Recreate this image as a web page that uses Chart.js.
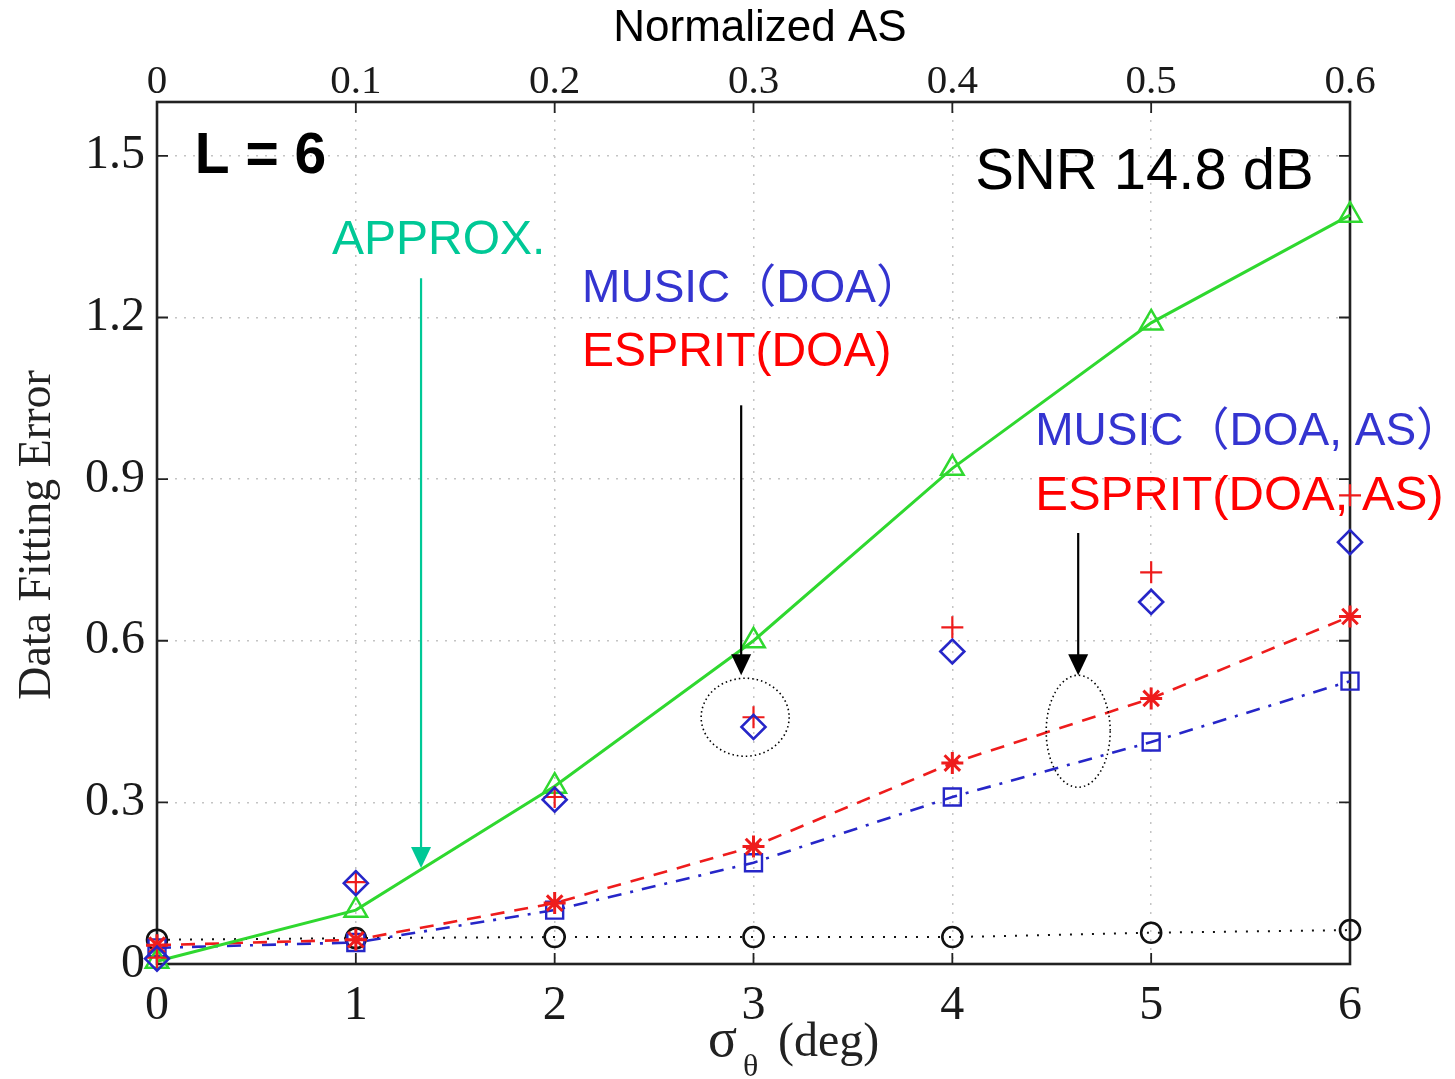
<!DOCTYPE html>
<html>
<head>
<meta charset="utf-8">
<script src="https://cdn.jsdelivr.net/npm/chart.js@4.4.0/dist/chart.umd.min.js"></script>
<style>
html, body { margin: 0; padding: 0; background: #fff; }
#wrap { width: 1455px; height: 1079px; position: relative; }
</style>
</head>
<body>
<div id="wrap"><canvas id="chart"></canvas></div>
<script>
// x values (sigma_theta, deg) and tick labels
const sigma = [0, 1, 2, 3, 4, 5, 6];
const yTicks = [0, 0.3, 0.6, 0.9, 1.2, 1.5];
const yTickLabels = ['0', '0.3', '0.6', '0.9', '1.2', '1.5'];
const asTicks = [0, 0.1, 0.2, 0.3, 0.4, 0.5, 0.6];
const asTickLabels = ['0', '0.1', '0.2', '0.3', '0.4', '0.5', '0.6'];

// series
const approx      = [0.005, 0.10, 0.33, 0.60, 0.92, 1.19, 1.39];   // green triangles
const bound       = [0.045, 0.048, 0.05, 0.05, 0.05, 0.058, 0.063]; // black circles
const espritDoaAs = [0.035, 0.045, 0.113, 0.218, 0.373, 0.493, 0.645]; // red stars
const musicDoaAs  = [0.03, 0.04, 0.10, 0.188, 0.31, 0.412, 0.525];    // blue squares
const musicDoa    = [0.01, 0.15, 0.305, 0.44, 0.58, 0.672, 0.783];    // blue diamonds
const espritDoa   = [0.012, 0.152, 0.31, 0.458, 0.625, 0.727, 0.87];  // red plus

const GREEN = '#2fd82f';
const RED = '#ee1c1c';
const BLUE = '#2626c8';
const TEAL = '#00c896';

const pts = arr => sigma.map((x, i) => ({ x: x, y: arr[i] }));

/* --- extra drawing: frame, inward ticks, axis titles, notes --- */
const decorPlugin = {
    id: 'decor',
    beforeDatasetsDraw(chart) {
        const { ctx, chartArea: a, scales } = chart;
        ctx.save();
        ctx.strokeStyle = '#222';
        ctx.lineWidth = 1.8;
        // inward ticks
        scales.x.ticks.forEach(t => {
            const px = scales.x.getPixelForValue(t.value);
            ctx.beginPath();
            ctx.moveTo(px, a.bottom); ctx.lineTo(px, a.bottom - 11);
            ctx.moveTo(px, a.top); ctx.lineTo(px, a.top + 11);
            ctx.stroke();
        });
        scales.y.ticks.forEach(t => {
            const py = scales.y.getPixelForValue(t.value);
            ctx.beginPath();
            ctx.moveTo(a.left, py); ctx.lineTo(a.left + 11, py);
            ctx.moveTo(a.right, py); ctx.lineTo(a.right - 11, py);
            ctx.stroke();
        });
        ctx.lineWidth = 2.6;
        ctx.strokeRect(a.left, a.top, a.right - a.left, a.bottom - a.top);
        ctx.restore();
    },
    afterDraw(chart) {
        const { ctx, scales } = chart;
        const X = v => scales.x.getPixelForValue(v);
        const Y = v => scales.y.getPixelForValue(v);
        ctx.save();

        // axis titles
        ctx.fillStyle = '#000';
        ctx.font = '44px "Liberation Sans", Arial, sans-serif';
        ctx.textAlign = 'center';
        ctx.textBaseline = 'middle';
        ctx.fillText('Normalized AS', 760, 29);

        ctx.save();
        ctx.translate(38, 535);
        ctx.rotate(-Math.PI / 2);
        ctx.fillStyle = '#222';
        ctx.font = '46px "Liberation Serif", "Times New Roman", serif';
        ctx.fillText('Data Fitting Error', 0, 0);
        ctx.restore();

        ctx.fillStyle = '#222';
        ctx.textAlign = 'left';
        ctx.textBaseline = 'alphabetic';
        ctx.font = '54px "Liberation Serif", serif';
        ctx.fillText('σ', 708, 1056);
        ctx.font = '32px "Liberation Serif", serif';
        ctx.fillText('θ', 743, 1076);
        ctx.font = '48px "Liberation Serif", serif';
        ctx.fillText('(deg)', 778, 1056);

        // notes
        const note = (txt, x, y, color, font) => {
            ctx.fillStyle = color;
            ctx.font = font;
            ctx.textAlign = 'left';
            ctx.textBaseline = 'middle';
            ctx.fillText(txt, X(x), Y(y));
        };
        const sans = '"Liberation Sans", "Noto Sans CJK JP", sans-serif';
        note('L = 6', 0.19, 1.497, '#000', 'bold 57px ' + sans);
        note('SNR 14.8 dB', 4.115, 1.469, '#000', '58px ' + sans);
        note('APPROX.', 0.88, 1.343, TEAL, '48px ' + sans);
        note('MUSIC（DOA）', 2.138, 1.252, '#3434d0', '46px ' + sans);
        note('ESPRIT(DOA)', 2.138, 1.135, '#ff0000', '48px ' + sans);
        note('MUSIC（DOA, AS）', 4.417, 0.987, '#3434d0', '46px ' + sans);
        note('ESPRIT(DOA, AS)', 4.417, 0.868, '#ff0000', '49px ' + sans);

        const arrow = (x, y0, y1, color) => {
            const px = X(x), p0 = Y(y0), p1 = Y(y1);
            ctx.strokeStyle = color;
            ctx.fillStyle = color;
            ctx.lineWidth = 2.2;
            ctx.beginPath();
            ctx.moveTo(px, p0); ctx.lineTo(px, p1 - 18);
            ctx.stroke();
            ctx.beginPath();
            ctx.moveTo(px - 10, p1 - 21);
            ctx.lineTo(px + 10, p1 - 21);
            ctx.lineTo(px, p1);
            ctx.closePath();
            ctx.fill();
        };
        arrow(1.328, 1.273, 0.178, TEAL);
        arrow(2.938, 1.037, 0.536, '#000');
        arrow(4.633, 0.80, 0.536, '#000');

        const ring = (cx, cy, rx, ry) => {
            ctx.strokeStyle = '#000';
            ctx.lineWidth = 1.6;
            ctx.setLineDash([1.5, 3]);
            ctx.beginPath();
            ctx.ellipse(X(cx), Y(cy), rx, ry, 0, 0, Math.PI * 2);
            ctx.stroke();
            ctx.setLineDash([]);
        };
        ring(2.958, 0.458, 44, 39);
        ring(4.633, 0.432, 32, 56);

        ctx.restore();
    }
};

const serif = '"Liberation Serif", "Times New Roman", serif';

new Chart(document.getElementById('chart'), {
    type: 'line',
    data: {
        datasets: [
            {
                label: 'MUSIC(DOA)',
                data: pts(musicDoa),
                showLine: false,
                clip: false,
                pointStyle: 'rectRot',
                pointRadius: 12,
                borderColor: BLUE,
                pointBorderWidth: 2.6,
                pointBackgroundColor: 'rgba(0,0,0,0)'
            },
            {
                label: 'ESPRIT(DOA)',
                data: pts(espritDoa),
                showLine: false,
                clip: false,
                pointStyle: 'cross',
                pointRadius: 11,
                borderColor: RED,
                pointBorderWidth: 2.2
            },
            {
                label: 'APPROX.',
                data: pts(approx),
                clip: false,
                borderColor: GREEN,
                borderWidth: 3,
                pointStyle: 'triangle',
                pointRadius: 13,
                pointBorderWidth: 2.5,
                pointBackgroundColor: 'rgba(0,0,0,0)',
                tension: 0
            },
            {
                label: 'ESPRIT(DOA, AS)',
                data: pts(espritDoaAs),
                clip: false,
                borderColor: RED,
                borderWidth: 2.6,
                borderDash: [14, 10],
                pointStyle: 'star',
                pointRadius: 11,
                pointBorderWidth: 3,
                tension: 0
            },
            {
                label: 'MUSIC(DOA, AS)',
                data: pts(musicDoaAs),
                clip: false,
                borderColor: BLUE,
                borderWidth: 2.6,
                borderDash: [14, 9, 3, 9],
                pointStyle: 'rect',
                pointRadius: 12,
                pointBorderWidth: 2.4,
                pointBackgroundColor: 'rgba(0,0,0,0)',
                tension: 0
            },
            {
                label: 'bound',
                data: pts(bound),
                clip: false,
                borderColor: '#111',
                borderWidth: 2,
                borderDash: [2, 9],
                pointStyle: 'circle',
                pointRadius: 10,
                pointBorderWidth: 2.6,
                pointBackgroundColor: 'rgba(0,0,0,0)',
                tension: 0
            }
        ]
    },
    options: {
        responsive: true,
        maintainAspectRatio: false,
        animation: false,
        layout: { padding: { left: 0, right: 105, top: 0, bottom: 0 } },
        plugins: {
            legend: { display: false },
            tooltip: { enabled: false }
        },
        scales: {
            x: {
                type: 'linear',
                position: 'bottom',
                min: 0,
                max: 6,
                afterBuildTicks: s => { s.ticks = sigma.map(v => ({ value: v })); },
                afterFit: s => { s.height = 115; },
                ticks: {
                    callback: (v) => String(v),
                    font: { family: serif, size: 48 },
                    color: '#1a1a1a',
                    padding: 14,
                    maxRotation: 0
                },
                grid: { color: '#c4c4c4', lineWidth: 1.5, drawTicks: false },
                border: { display: false, dash: [2, 7] }
            },
            x2: {
                type: 'linear',
                position: 'top',
                min: 0,
                max: 0.6,
                afterBuildTicks: s => { s.ticks = asTicks.map(v => ({ value: v })); },
                afterFit: s => { s.height = 102; },
                ticks: {
                    callback: (v, i) => asTickLabels[i],
                    font: { family: serif, size: 41 },
                    color: '#1a1a1a',
                    padding: -5,
                    maxRotation: 0
                },
                grid: { display: false, drawTicks: false },
                border: { display: false }
            },
            y: {
                min: 0,
                max: 1.6,
                afterBuildTicks: s => { s.ticks = yTicks.map(v => ({ value: v })); },
                afterFit: s => { s.width = 157; },
                ticks: {
                    callback: (v, i) => yTickLabels[i],
                    font: { family: serif, size: 48 },
                    color: '#1a1a1a',
                    padding: 12
                },
                grid: { color: '#c4c4c4', lineWidth: 1.5, drawTicks: false },
                border: { display: false, dash: [2, 7] }
            }
        }
    },
    plugins: [decorPlugin]
});
</script>
</body>
</html>
